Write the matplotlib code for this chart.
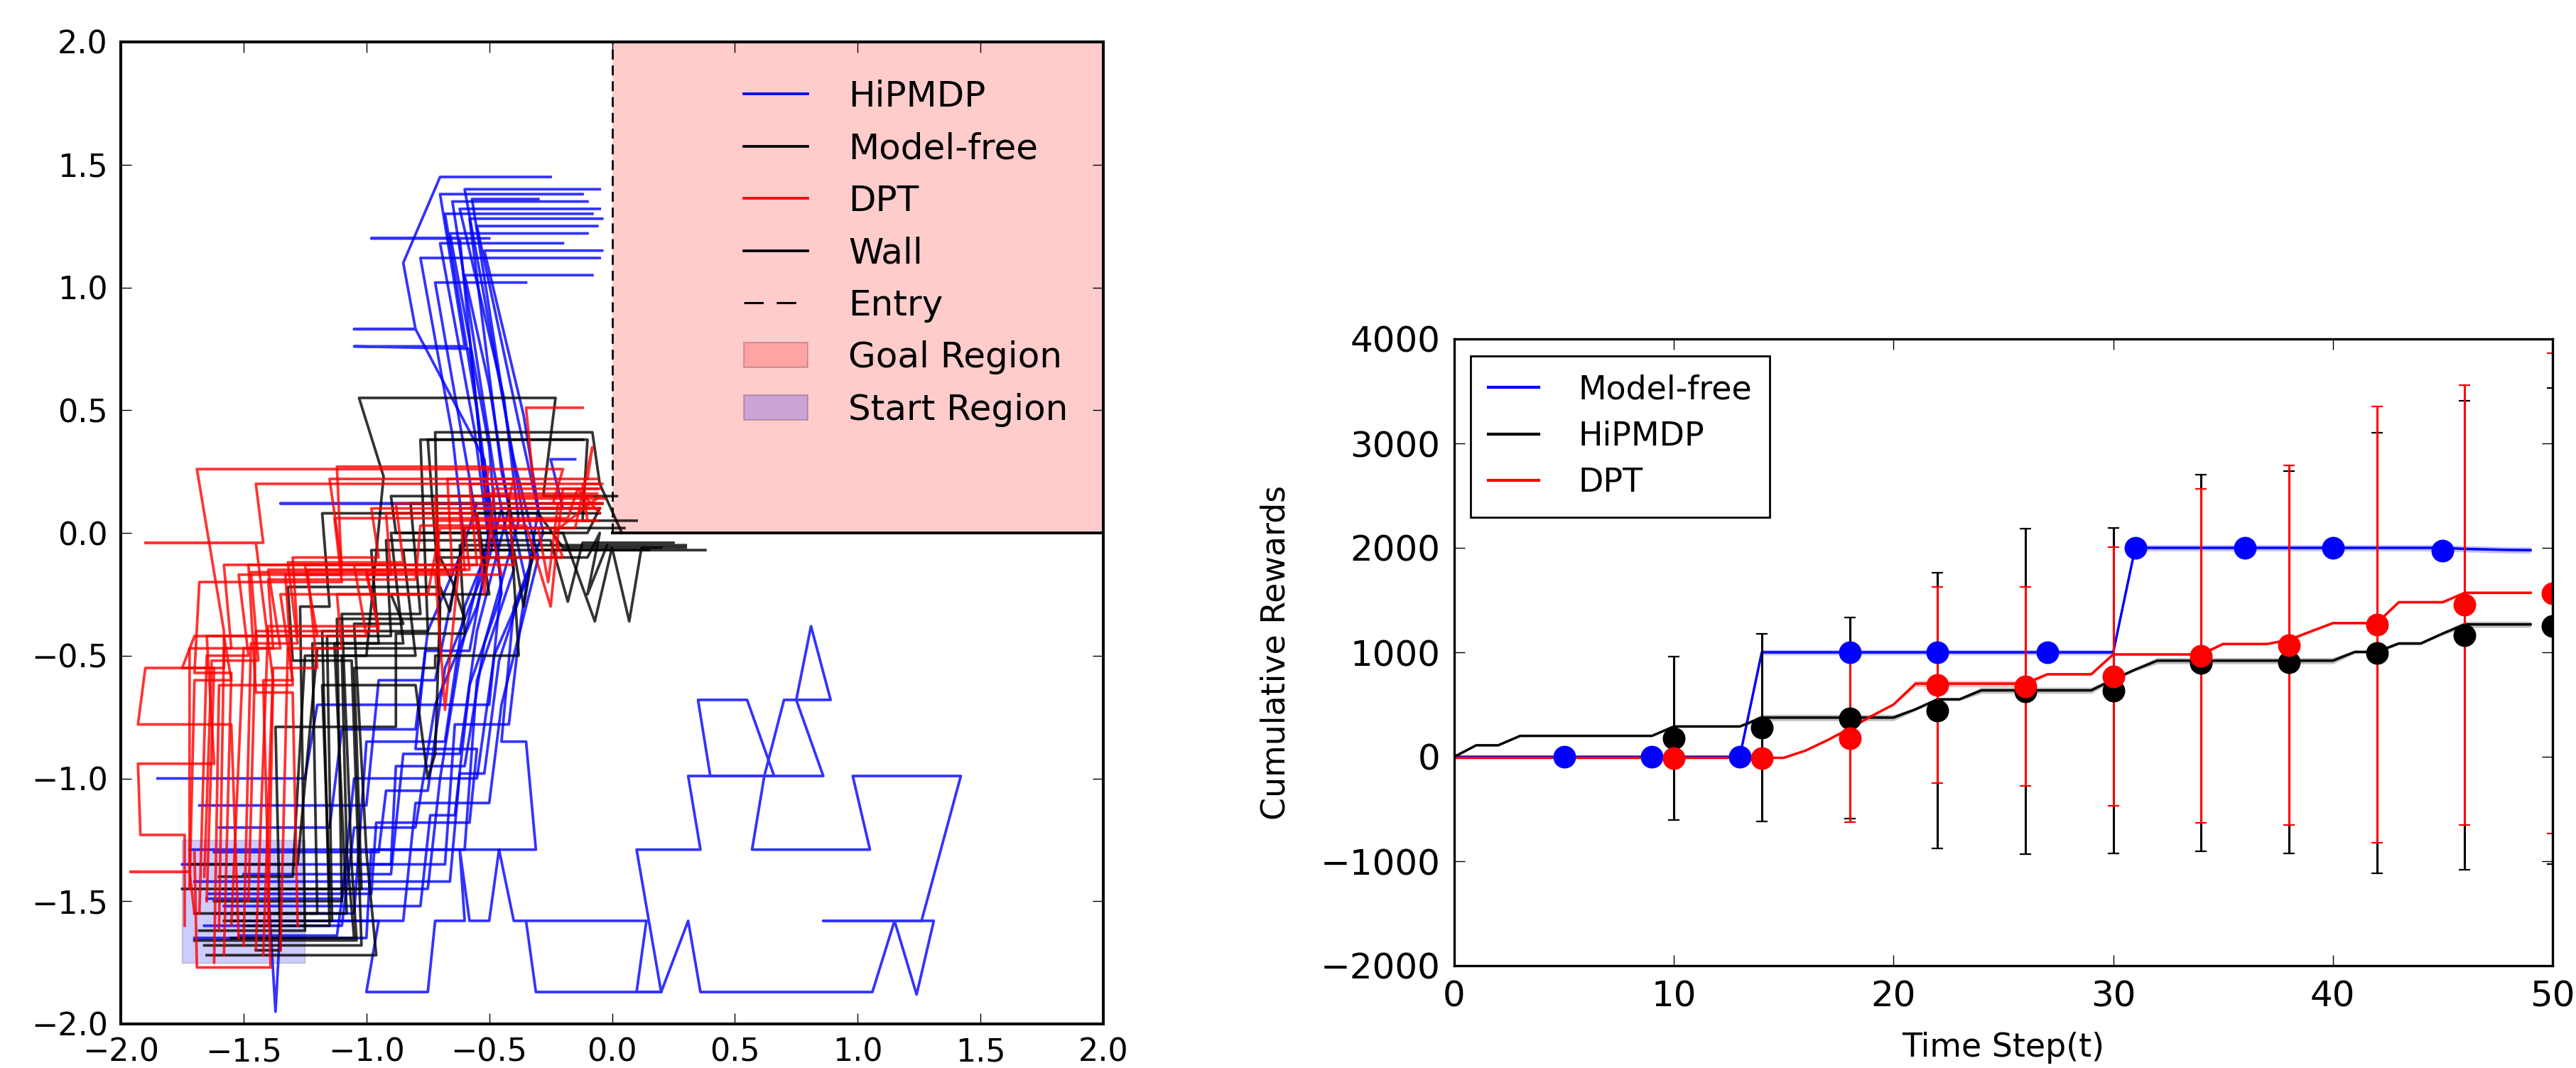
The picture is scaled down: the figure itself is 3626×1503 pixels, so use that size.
import matplotlib
matplotlib.use("Agg")
import matplotlib.pyplot as plt
from matplotlib.patches import Rectangle, Patch
from matplotlib.lines import Line2D

plt.rcParams['font.family'] = ['DejaVu Sans']

# ---------------- left panel: trajectories ----------------
hipmdp_paths = [
    [(-1.70, -1.65), (-1.00, -1.65), (-0.98, -1.29), (-0.60, -1.29), (-0.55, -0.60), (-0.40, -0.15), (-0.48, 0.25), (-0.65, 1.35), (-0.10, 1.35)],
    [(-1.55, -1.58), (-0.85, -1.58), (-0.80, -1.10), (-0.50, -1.10), (-0.45, -0.70), (-0.30, -0.10), (-0.40, 0.30), (-0.60, 1.40), (-0.05, 1.40)],
    [(-1.65, -1.49), (-1.10, -1.49), (-1.05, -1.00), (-0.70, -1.00), (-0.62, -0.50), (-0.50, 0.00), (-0.55, 0.50), (-0.68, 1.30), (-0.08, 1.30)],
    [(-1.50, -1.39), (-0.90, -1.39), (-0.85, -0.90), (-0.62, -0.90), (-0.55, -0.40), (-0.42, 0.10), (-0.50, 0.60), (-0.60, 1.05), (-0.08, 1.05)],
    [(-1.72, -1.29), (-0.31, -1.29), (-0.35, -0.85), (-0.45, -0.85), (-0.40, -0.30), (-0.28, 0.00), (-0.38, 0.45), (-0.55, 1.25), (-0.06, 1.25)],
    [(-1.60, -1.20), (-1.15, -1.20), (-1.10, -0.80), (-0.80, -0.80), (-0.75, -0.40), (-0.60, -0.05), (-0.65, 0.40), (-0.78, 1.12), (-0.05, 1.12)],
    [(-1.85, -1.00), (-1.25, -1.00), (-1.20, -0.70), (-0.50, -0.70), (-0.45, -0.20), (-0.52, 0.20), (-0.62, 1.20), (-0.98, 1.20), (-0.50, 1.20)],
    [(-1.68, -1.11), (-1.00, -1.11), (-0.95, -0.60), (-0.72, -0.60), (-0.62, -0.10), (-0.55, 0.12), (-1.35, 0.12), (-0.50, 0.12), (-0.58, 0.75), (-1.05, 0.76), (-0.60, 0.76), (-0.70, 1.38), (-0.12, 1.38)],
    [(-1.62, -1.55), (-1.05, -1.55), (-1.00, -0.85), (-0.68, -0.85), (-0.60, -0.30), (-0.48, 0.00), (-0.52, 0.30), (-0.80, 0.83), (-1.05, 0.83), (-0.80, 0.83), (-0.85, 1.10), (-0.70, 1.45), (-0.25, 1.45)],
    [(-1.58, -1.45), (-0.75, -1.45), (-0.70, -1.00), (-0.55, -1.00), (-0.48, -0.50), (-0.35, -0.20), (-0.45, 0.25), (-0.58, 1.28), (-0.04, 1.28)],
    [(-1.75, -1.35), (-0.90, -1.35), (-0.88, -0.95), (-0.60, -0.95), (-0.52, -0.45), (-0.38, 0.05), (-0.44, 0.55), (-0.62, 1.32), (-0.05, 1.32)],
    [(-1.66, -1.60), (-1.10, -1.60), (-1.05, -1.20), (-0.80, -1.20), (-0.72, -0.70), (-0.55, -0.30), (-0.45, 0.10), (-0.20, 0.10), (-0.25, 0.30), (-0.15, 0.30)],
    [(-1.58, -1.52), (-0.78, -1.52), (-0.74, -1.15), (-0.64, -1.15), (-0.58, -0.62), (-0.45, -0.25), (-0.50, 0.35), (-0.66, 1.22), (-0.10, 1.22)],
    [(-1.70, -1.42), (-0.66, -1.42), (-0.62, -0.98), (-0.52, -0.98), (-0.46, -0.52), (-0.33, -0.12), (-0.42, 0.40), (-0.57, 1.36), (-0.30, 1.36)],
    [(-1.62, -1.30), (-0.95, -1.30), (-0.92, -1.05), (-0.75, -1.05), (-0.68, -0.55), (-0.52, -0.15), (-0.58, 0.22), (-0.72, 1.02), (-0.35, 1.02)],
    [(-1.52, -1.64), (-1.12, -1.64), (-1.08, -1.35), (-0.68, -1.35), (-0.64, -0.78), (-0.42, -0.78), (-0.37, -0.35), (-0.30, 0.10), (-0.36, 0.48), (-0.52, 1.15), (-0.04, 1.15)],
    [(-1.64, -1.47), (-0.98, -1.47), (-0.96, -1.18), (-0.58, -1.18), (-0.55, -0.88), (-0.80, -0.88), (-0.76, -0.48), (-0.58, -0.48), (-0.50, -0.05), (-0.56, 0.42), (-0.70, 1.18), (-0.20, 1.18)],
    [(-1.40, -1.45), (-1.37, -1.95), (-1.35, -1.58), (-0.95, -1.58), (-1.00, -1.87), (-0.75, -1.87), (-0.72, -1.58), (-0.60, -1.58),
     (-0.62, -1.29), (-0.58, -1.58), (-0.50, -1.58), (-0.46, -1.29), (-0.40, -1.58), (0.14, -1.58), (0.10, -1.87), (0.20, -1.87),
     (0.10, -1.29), (0.36, -1.29), (0.31, -0.99), (0.66, -0.99), (0.55, -0.68), (0.35, -0.68), (0.40, -0.99), (0.86, -0.99),
     (0.75, -0.68), (0.81, -0.38), (0.89, -0.68), (0.70, -0.68), (0.62, -0.99), (0.57, -1.29), (1.05, -1.29), (0.98, -0.99),
     (1.42, -0.99), (1.26, -1.58), (0.86, -1.58), (1.31, -1.58), (1.24, -1.88), (1.15, -1.58), (1.06, -1.87), (0.36, -1.87),
     (0.31, -1.58), (0.20, -1.87), (-0.31, -1.87), (-0.35, -1.58)],
]

modelfree_paths = [
    [(-1.55, -1.65), (-1.05, -1.65), (-1.08, -1.30), (-1.10, -0.50), (-0.80, -0.50), (-0.85, -0.07), (0.38, -0.07)],
    [(-1.70, -1.55), (-1.20, -1.55), (-1.22, -0.45), (-0.85, -0.45), (-0.90, 0.00), (-0.20, 0.00), (-0.07, -0.36), (0.00, -0.06), (0.07, -0.36), (0.12, -0.06), (0.20, -0.06)],
    [(-1.65, -1.72), (-0.96, -1.72), (-1.00, -1.30), (-1.05, -0.37), (-0.85, -0.37), (-0.90, -0.25), (-0.50, -0.25), (-0.55, 0.08), (-0.05, 0.08)],
    [(-1.60, -1.40), (-1.30, -1.40), (-1.25, -0.50), (-1.00, -0.50), (-0.93, 0.23), (-1.03, 0.55), (-0.23, 0.55), (-0.28, 0.15), (0.02, 0.15)],
    [(-1.50, -1.60), (-1.15, -1.60), (-1.18, -0.40), (-0.75, -0.40), (-0.78, 0.38), (-0.10, 0.38), (-0.12, 0.05), (0.10, 0.05)],
    [(-1.72, -1.35), (-1.28, -1.35), (-1.20, -0.47), (-0.70, -0.47), (-0.72, 0.41), (-0.08, 0.41), (-0.05, 0.20), (0.04, 0.00)],
    [(-1.45, -1.70), (-1.35, -1.70), (-1.37, -0.79), (-0.88, -0.79), (-0.88, -0.41), (-0.60, -0.41), (-0.62, -0.05), (0.30, -0.05)],
    [(-1.62, -1.50), (-1.10, -1.50), (-1.12, -0.35), (-0.60, -0.35), (-0.65, -0.20), (-0.70, -0.10), (-0.10, -0.10), (-0.05, 0.00), (-0.10, -0.25), (-0.02, -0.05)],
    [(-1.68, -1.62), (-1.25, -1.62), (-1.27, -0.30), (-1.15, -0.30), (-1.18, 0.08), (-0.30, 0.08), (-0.20, -0.06), (0.30, -0.06)],
    [(-1.40, -1.45), (-1.02, -1.45), (-1.05, -0.55), (-0.72, -0.55), (-0.72, -0.50), (-0.38, -0.50), (-0.42, 0.15), (-0.90, 0.15), (-0.88, 0.00), (-0.10, 0.00), (-0.05, 0.10)],
    [(-1.55, -1.55), (-1.08, -1.55), (-1.13, -0.45), (-0.95, -0.45), (-0.98, -0.07), (-0.40, -0.07), (-0.36, -0.30), (-0.32, -0.07), (0.15, -0.07)],
    [(-1.75, -1.45), (-1.15, -1.45), (-1.18, -0.62), (-0.80, -0.62), (-0.75, -1.00), (-0.72, -0.90), (-0.70, -0.30), (-0.75, 0.38), (-0.12, 0.38)],
    [(-1.66, -1.68), (-1.02, -1.68), (-1.06, -0.52), (-1.30, -0.52), (-1.32, -0.22), (-0.70, -0.22), (-0.66, -0.32), (-0.60, 0.02), (0.05, 0.02)],
    [(-1.58, -1.58), (-1.14, -1.58), (-1.16, -0.42), (-0.90, -0.42), (-0.92, -0.03), (-0.25, -0.03), (-0.18, -0.28), (-0.12, -0.04), (0.25, -0.04)],
    [(-1.70, -1.66), (-1.04, -1.66), (-1.06, -1.35), (-1.10, -0.33), (-0.78, -0.33), (-0.82, 0.12), (-0.04, 0.12)],
]

dpt_paths = [
    [(-1.55, -1.60), (-1.50, -0.47), (-1.35, -0.47), (-1.40, -0.15), (-0.60, -0.15), (-0.62, 0.10), (-0.05, 0.10)],
    [(-1.65, -1.50), (-1.62, -0.55), (-1.75, -0.55), (-1.70, -0.42), (-1.00, -0.42), (-1.05, -0.13), (-0.70, -0.13), (-0.72, 0.15), (-0.08, 0.15)],
    [(-1.45, -1.70), (-1.40, -0.38), (-0.95, -0.38), (-1.00, -0.17), (-0.45, -0.17), (-0.50, 0.05), (-0.10, 0.05), (-0.12, 0.20), (-0.04, 0.20)],
    [(-1.70, -1.30), (-1.69, -1.77), (-1.39, -1.77), (-1.42, -0.60), (-1.30, -0.60), (-1.35, -0.25), (-0.70, -0.25), (-0.72, 0.05), (-0.06, 0.05)],
    [(-1.70, -1.55), (-1.72, -1.38), (-1.96, -1.38), (-1.72, -1.38), (-1.72, -0.47), (-1.55, -0.47), (-1.58, -0.13), (-0.55, -0.13), (-0.58, 0.20), (-0.05, 0.20)],
    [(-1.74, -1.60), (-1.74, -1.23), (-1.92, -1.23), (-1.93, -0.94), (-1.62, -0.94), (-1.65, -0.42), (-1.20, -0.42), (-1.25, -0.13), (-0.40, -0.13), (-0.42, 0.10), (-0.05, 0.10)],
    [(-1.52, -1.65), (-1.55, -0.78), (-1.93, -0.78), (-1.90, -0.55), (-1.58, -0.55), (-1.58, -0.40), (-1.69, 0.26), (-0.20, 0.26), (-0.24, 0.12), (-0.06, 0.12)],
    [(-1.40, -1.60), (-1.38, -0.60), (-1.45, -0.04), (-1.90, -0.04), (-1.42, -0.04), (-1.45, 0.20), (-0.32, 0.20), (-0.35, 0.51), (-0.12, 0.51)],
    [(-1.48, -1.50), (-1.45, -0.40), (-0.95, -0.40), (-1.00, -0.15), (-0.72, -0.15), (-0.68, -0.72), (-0.62, -0.10), (-0.20, -0.10), (-0.24, 0.00), (-0.05, 0.15)],
    [(-1.35, -1.70), (-1.32, -0.47), (-1.10, -0.47), (-1.12, -0.25), (-0.75, -0.25), (-0.70, 0.02), (-0.30, 0.02), (-0.26, -0.20), (-0.22, 0.12), (-0.04, 0.12)],
    [(-1.68, -1.55), (-1.65, -0.50), (-1.48, -0.50), (-1.52, -0.17), (-0.90, -0.17), (-0.92, 0.08), (-0.55, 0.08), (-0.52, -0.25), (-0.48, 0.18), (-0.06, 0.18)],
    [(-1.28, -1.60), (-1.30, -0.65), (-1.45, -0.65), (-1.48, -0.13), (-1.10, -0.13), (-1.15, 0.22), (-0.40, 0.22), (-0.42, 0.14), (-0.03, 0.14)],
    [(-1.60, -1.62), (-1.58, -0.47), (-1.38, -0.47), (-1.40, -0.19), (-0.80, -0.19), (-0.78, 0.03), (-0.35, 0.03), (-0.25, -0.30), (-0.20, 0.18), (-0.05, 0.18)],
    [(-1.72, -1.45), (-1.70, -0.60), (-1.55, -0.60), (-1.58, -0.42), (-1.28, -0.42), (-1.30, -0.10), (-0.95, -0.10), (-0.98, 0.10), (-0.08, 0.10)],
    [(-1.42, -1.72), (-1.38, -0.55), (-1.20, -0.55), (-1.24, -0.15), (-0.58, -0.15), (-0.60, 0.02), (-0.15, 0.02), (-0.08, 0.35), (-0.10, 0.22)],
    [(-1.62, -1.75), (-1.60, -0.62), (-1.30, -0.62), (-1.33, -0.17), (-1.10, -0.17), (-1.12, 0.27), (-0.50, 0.27), (-0.52, 0.16), (-0.06, 0.16)],
    [(-1.50, -1.68), (-1.47, -0.45), (-1.28, -0.45), (-1.32, -0.12), (-0.85, -0.12), (-0.88, 0.12), (-0.04, 0.12)],
    [(-1.66, -1.40), (-1.63, -0.52), (-1.44, -0.52), (-1.47, -0.16), (-0.65, -0.16), (-0.67, 0.22), (-0.06, 0.22)],
    [(-1.58, -1.72), (-1.55, -0.57), (-1.70, -0.57), (-1.68, -0.20), (-1.10, -0.20), (-1.13, 0.06), (-0.18, 0.06), (-0.14, 0.18), (-0.05, 0.08)],
]

goal_xy, goal_w, goal_h = (0.0, 0.0), 2.0, 2.0
start_xy, start_w, start_h = (-1.75, -1.75), 0.5, 0.5
wall_x, wall_y = [0.0, 2.0], [0.0, 0.0]
entry_x, entry_y = [0.0, 0.0], [0.0, 2.0]
left_ticks = [-2.0, -1.5, -1.0, -0.5, 0.0, 0.5, 1.0, 1.5, 2.0]

# ---------------- right panel: cumulative rewards ----------------
t = list(range(50))
mf_mean = [0] * 14 + [1000] * 17 + [2000] * 15 + [1990, 1985, 1980, 1978]
mf_band = [10] * 14 + [25] * 17 + [30] * 19
hp_mean = [0, 110, 110, 200, 200, 200, 200, 200, 200, 200,
           290, 290, 290, 290, 375, 375, 375, 375, 375, 375,
           375, 455, 550, 550, 636, 636, 636, 636, 636, 636,
           740, 835, 920, 920, 920, 920, 920, 920, 920, 920,
           920, 1004, 1004, 1085, 1085, 1180, 1267, 1267, 1267, 1267]
hp_band = [8] * 14 + [30] * 7 + [15] * 3 + [30] * 6 + [15] * 2 + [30] * 9 + [15] * 5 + [30] * 4
dpt_mean = [-10] * 16 + [60, 160, 270, 390, 500, 700, 700, 700, 700, 700,
                         700, 790, 790, 790, 980, 980, 980, 980, 980, 1080,
                         1080, 1080, 1120, 1200, 1280, 1280, 1280, 1480, 1480, 1480,
                         1570, 1570, 1570, 1570]
dpt_band = [8] * 21 + [30] * 6 + [12] * 23

mf_pt_t = [5, 9, 13, 18, 22, 27, 31, 36, 40, 45]
mf_pt_v = [0, 0, 0, 1000, 1000, 1000, 2000, 2000, 2000, 1975]

hp_pt_t = [10, 14, 18, 22, 26, 30, 34, 38, 42, 46, 50]
hp_pt_v = [175, 280, 370, 442, 625, 630, 899, 903, 994, 1162, 1250]
hp_pt_err = [782, 900, 965, 1317, 1558, 1558, 1802, 1830, 2108, 2247, 2278]

dpt_pt_t = [10, 14, 18, 22, 26, 30, 34, 38, 42, 46, 50]
dpt_pt_v = [-15, -15, 177, 686, 672, 770, 968, 1066, 1267, 1453, 1563]
dpt_pt_err = [0, 0, 800, 940, 953, 1238, 1599, 1721, 2089, 2108, 2299]

right_xticks = [0, 10, 20, 30, 40, 50]
right_yticks = [-2000, -1000, 0, 1000, 2000, 3000, 4000]


def style_axes(ax, labelsize, pad, spine_w):
    ax.tick_params(direction='in', top=True, right=True, length=10.8, width=1.0,
                   pad=pad, labelsize=labelsize)
    for s in ax.spines.values():
        s.set_linewidth(spine_w)


fig = plt.figure(figsize=(36.26, 15.03), dpi=100, facecolor='white')

# left
ax1 = fig.add_axes([170 / 3626, 1 - 1441 / 1503, 1383 / 3626, 1382 / 1503])
ax1.add_patch(Rectangle(goal_xy, goal_w, goal_h, facecolor='red', edgecolor='none', alpha=0.2, zorder=0))
ax1.add_patch(Rectangle(start_xy, start_w, start_h, facecolor='blue', edgecolor='black', alpha=0.2, zorder=0))
for p in hipmdp_paths:
    ax1.plot([q[0] for q in p], [q[1] for q in p], color='blue', lw=2.7, alpha=0.8)
for p in modelfree_paths:
    ax1.plot([q[0] for q in p], [q[1] for q in p], color='black', lw=2.7, alpha=0.8)
for p in dpt_paths:
    ax1.plot([q[0] for q in p], [q[1] for q in p], color='red', lw=2.7, alpha=0.8)
ax1.plot(wall_x, wall_y, color='black', lw=2.8)
ax1.plot(entry_x, entry_y, color='black', lw=2.0, linestyle=(0, (5, 3)))
ax1.set_xlim(-2, 2)
ax1.set_ylim(-2, 2)
ax1.set_xticks(left_ticks)
ax1.set_yticks(left_ticks)
style_axes(ax1, 32, 13, 2.9)

handles = [
    Line2D([], [], color='blue', lw=2.7),
    Line2D([], [], color='black', lw=2.7),
    Line2D([], [], color='red', lw=2.7),
    Line2D([], [], color='black', lw=2.7),
    Line2D([], [], color='black', lw=2.2, linestyle=(0, (9, 6))),
    Patch(facecolor='red', edgecolor='black', alpha=0.2, lw=1.5),
    Patch(facecolor='blue', edgecolor='black', alpha=0.2, lw=1.5),
]
labels = ['HiPMDP', 'Model-free', 'DPT', 'Wall', 'Entry', 'Goal Region', 'Start Region']
ax1.legend(handles, labels, loc='upper left', bbox_to_anchor=(0.634, 0.962),
           frameon=False, fontsize=36, handlelength=1.8, handletextpad=1.15,
           labelspacing=0.51, borderpad=0, borderaxespad=0)

# right
ax2 = fig.add_axes([2047 / 3626, 1 - 1359 / 1503, 1546 / 3626, 882 / 1503])
ax2.fill_between(t, [m - b for m, b in zip(mf_mean, mf_band)], [m + b for m, b in zip(mf_mean, mf_band)],
                 color='blue', alpha=0.25, lw=0)
ax2.fill_between(t, [m - b for m, b in zip(hp_mean, hp_band)], [m + b for m, b in zip(hp_mean, hp_band)],
                 color='black', alpha=0.25, lw=0)
ax2.fill_between(t, [m - b for m, b in zip(dpt_mean, dpt_band)], [m + b for m, b in zip(dpt_mean, dpt_band)],
                 color='red', alpha=0.25, lw=0)
ax2.plot(t, mf_mean, color='blue', lw=2.5, label='Model-free')
ax2.plot(t, hp_mean, color='black', lw=2.5, label='HiPMDP')
ax2.plot(t, dpt_mean, color='red', lw=2.5, label='DPT')
ax2.errorbar(mf_pt_t, mf_pt_v, fmt='o', color='blue', ms=22, mec='blue')
ax2.errorbar(hp_pt_t, hp_pt_v, yerr=hp_pt_err, fmt='o', color='black', ms=22, mec='black',
             capsize=6, elinewidth=2.2, capthick=1.6)
ax2.errorbar(dpt_pt_t, dpt_pt_v, yerr=dpt_pt_err, fmt='o', color='red', ms=22, mec='red',
             capsize=6, elinewidth=2.2, capthick=1.6)
ax2.set_xlim(0, 50)
ax2.set_ylim(-2000, 4000)
ax2.set_xticks(right_xticks)
ax2.set_yticks(right_yticks)
style_axes(ax2, 36, 14, 2.4)
ax2.set_xlabel('Time Step(t)', fontsize=33)
ax2.set_ylabel('Cumulative Rewards', fontsize=33)
ax2.xaxis.set_label_coords(0.5, -0.105)
ax2.yaxis.set_label_coords(-0.148, 0.5)
leg = ax2.legend(loc='upper left', bbox_to_anchor=(0.0149, 0.9728), borderaxespad=0,
                 fontsize=33, handlelength=1.55, handletextpad=1.2, borderpad=0.55,
                 labelspacing=0.45, fancybox=False, framealpha=1)
leg.get_frame().set_edgecolor('black')
leg.get_frame().set_linewidth(2.0)
for ln in leg.get_lines():
    ln.set_linewidth(3.0)

fig.savefig('out.png', dpi=100, facecolor='white')
